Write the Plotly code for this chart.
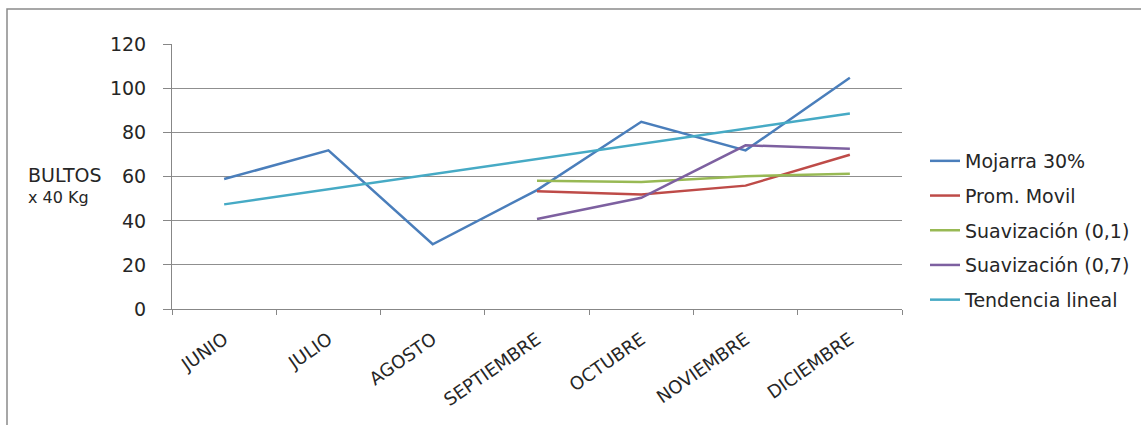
import plotly.graph_objects as go

# Months on the category axis
meses = ["JUNIO", "JULIO", "AGOSTO", "SEPTIEMBRE", "OCTUBRE", "NOVIEMBRE", "DICIEMBRE"]

# Series (None where a series has no value)
mojarra = [59, 72, 29.4, 54, 85, 72, 105]
prom_movil = [None, None, None, 53.5, 52, 56, 70]
suav_01 = [None, None, None, 58.2, 57.7, 60.3, 61.4]
suav_07 = [None, None, None, 40.9, 50.5, 74.3, 72.8]
tendencia = [47.5, 54.4, 61.2, 68.1, 75.0, 81.8, 88.7]

y_ticks = [0, 20, 40, 60, 80, 100, 120]

series = [
    ("Mojarra 30%", mojarra, "#4a7ebb"),
    ("Prom. Movil", prom_movil, "#be4b48"),
    ("Suavización (0,1)", suav_01, "#98b954"),
    ("Suavización (0,7)", suav_07, "#7d60a0"),
    ("Tendencia lineal", tendencia, "#46aac5"),
]

FONT = "'DejaVu Sans', sans-serif"
TXT = "#262626"
W, H = 1141, 425
L, R, T, B = 172, 239, 44, 116
PW, PH = W - L - R, H - T - B


def px_x(x):
    return (x - L) / PW


def px_y(y):
    return (H - B - y) / PH


fig = go.Figure()
for i, (name, vals, color) in enumerate(series):
    fig.add_trace(go.Scatter(
        x=meses, y=vals, name=name, mode="lines",
        line=dict(color=color, width=2.5),
        legendgroup=f"g{i}",
        connectgaps=False,
    ))

fig.update_layout(
    width=W, height=H,
    margin=dict(l=L, r=R, t=T, b=B, pad=0, autoexpand=False),
    paper_bgcolor="white",
    plot_bgcolor="white",
    font=dict(family=FONT, color=TXT),
    showlegend=True,
    legend=dict(
        x=px_x(925), xanchor="left",
        y=px_y(142), yanchor="top",
        traceorder="grouped", tracegroupgap=7,
        font=dict(size=19, family=FONT, color=TXT),
        bgcolor="rgba(0,0,0,0)",
    ),
    xaxis=dict(
        type="category",
        range=[-0.5, 6.5],
        tickangle=-35,
        tickson="boundaries",
        ticks="outside", ticklen=5, tickcolor="#878787",
        showline=True, linecolor="#878787", linewidth=1,
        showgrid=False,
        tickfont=dict(size=18, family=FONT, color=TXT),
        ticklabelstandoff=12,
        automargin=False,
    ),
    yaxis=dict(
        range=[0, 120.3],
        tickvals=y_ticks,
        ticks="outside", ticklen=8, tickcolor="#878787",
        showline=True, linecolor="#878787", linewidth=1,
        showgrid=True, gridcolor="#8f8f8f", gridwidth=1,
        zeroline=False,
        tickfont=dict(size=19, family=FONT, color=TXT),
        ticklabelstandoff=13,
        automargin=False,
    ),
    shapes=[
        dict(type="rect", xref="paper", yref="paper",
             x0=px_x(7), x1=px_x(W + 20),
             y0=px_y(H + 20), y1=px_y(9),
             line=dict(color="#8a8a8a", width=1.5), fillcolor="rgba(0,0,0,0)",
             layer="below"),
    ],
    annotations=[
        dict(text="BULTOS", x=px_x(26), y=px_y(175),
             xref="paper", yref="paper", xanchor="left", yanchor="middle",
             showarrow=False, font=dict(size=19, family=FONT, color=TXT)),
        dict(text="x 40 Kg", x=px_x(26), y=px_y(197),
             xref="paper", yref="paper", xanchor="left", yanchor="middle",
             showarrow=False, font=dict(size=16, family=FONT, color=TXT)),
    ],
)

fig.write_html("out.html")
